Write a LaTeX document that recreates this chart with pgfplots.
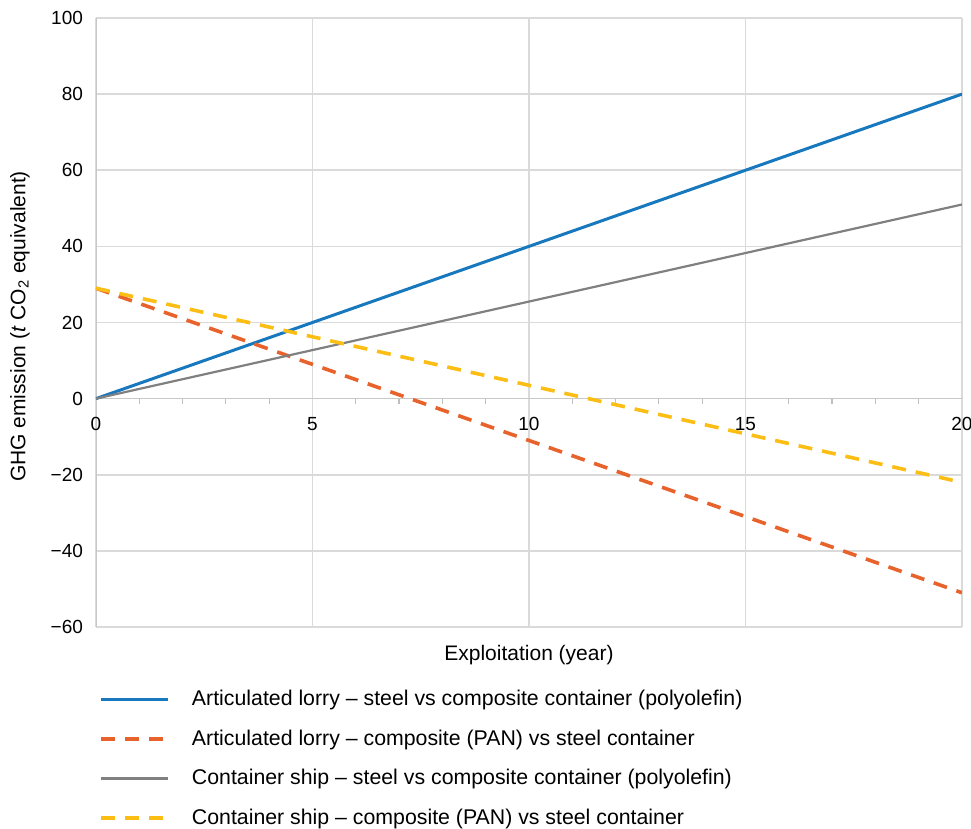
\documentclass[border=0pt]{standalone}
\usepackage{pgfplots}
\pgfplotsset{compat=1.18}
\usepackage{fontspec}
\setmainfont{Liberation Sans}
\definecolor{cblue}{RGB}{23,120,190}
\definecolor{corange}{RGB}{232,98,44}
\definecolor{cgray}{RGB}{128,128,128}
\definecolor{cyellow}{RGB}{252,189,20}
\definecolor{cgrid}{RGB}{218,218,218}
\begin{document}
\begin{tikzpicture}
\useasboundingbox (-48pt,-101pt) rectangle (437.5pt,313.5pt);
\begin{axis}[
  at={(0,0)}, anchor=south west,
  scale only axis, width=433pt, height=304.5pt,
  xmin=0, xmax=20, ymin=-60, ymax=100,
  axis x line=middle, axis y line=left,
  axis line style={draw=cgrid!80!gray, -},
  xtick={0,5,10,15,20}, ytick={-60,-40,...,100},
  xticklabels={0,5,10,15,20},
  yticklabels={−60,−40,−20,0,20,40,60,80,100},
  minor x tick num=4,
  hide obscured x ticks=false,
  grid=major, major grid style={cgrid, line width=0.8pt},
  tick align=outside,
  major tick length=0pt, minor tick length=2.5pt,
  minor x tick style={draw=cgrid!70!gray, line width=0.6pt},
  ticklabel style={font=\fontsize{9.5}{11}\selectfont},
  yticklabel style={xshift=-3pt},
  xticklabel style={yshift=-6pt},
  xlabel={Exploitation (year)},
  ylabel={GHG emission (\textit{t} CO\textsubscript{2} equivalent)},
  label style={font=\fontsize{10.5}{12}\selectfont},
  xlabel style={at={(axis description cs:0.5,0)}, anchor=center, yshift=-14pt},
  ylabel style={at={(axis description cs:0,0.5)}, anchor=center, rotate=0, yshift=38pt, xshift=-2pt},
  legend style={draw=none, fill=none, at={(axis description cs:0,0)}, anchor=north west,
    xshift=1.5pt, yshift=-29.5pt, inner sep=0pt, row sep=6.5pt,
    font=\fontsize{10.65}{12}\selectfont,
    /tikz/every odd column/.append style={column sep=9pt}},
  legend cell align=left,
  legend image code/.code={\draw[#1] (0pt,0pt) -- (33.5pt,0pt);},
]
\addplot[cblue, line width=1.5pt] coordinates {(0,0) (20,80)};
\addlegendentry{Articulated lorry – steel vs composite container (polyolefin)}
\addplot[corange, line width=1.8pt, dash pattern=on 7pt off 5pt] coordinates {(0,29) (20,-51)};
\addlegendentry{Articulated lorry – composite (PAN) vs steel container}
\addplot[cgray, line width=1.1pt] coordinates {(0,0) (20,51)};
\addlegendentry{Container ship – steel vs composite container (polyolefin)}
\addplot[cyellow, line width=1.8pt, dash pattern=on 7pt off 5pt] coordinates {(0,29) (20,-22)};
\addlegendentry{Container ship – composite (PAN) vs steel container}
\end{axis}
\end{tikzpicture}
\end{document}
